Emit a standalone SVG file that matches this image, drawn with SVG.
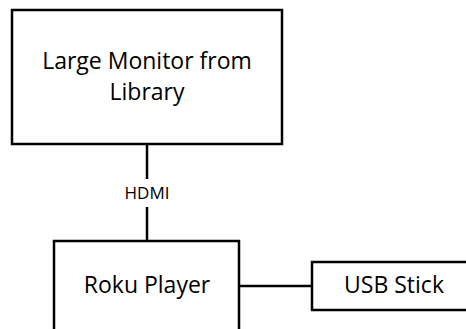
<svg xmlns="http://www.w3.org/2000/svg" width="466" height="329" viewBox="0 0 466 329">
<style>
.box{fill:#fff;stroke:#000;stroke-width:2.5}
.lbl{font-family:"Open Sans","Liberation Sans",sans-serif;font-size:23px;fill:#000;text-anchor:middle}
.small{font-family:"Open Sans","Liberation Sans",sans-serif;font-size:17px;fill:#000;text-anchor:middle}
.conn{stroke:#000;stroke-width:2.5;fill:none}
</style>
<rect width="466" height="329" fill="#fff"/>
<g id="connectors">
<line class="conn" x1="147" y1="144" x2="147" y2="179"/>
<line class="conn" x1="147" y1="207" x2="147" y2="241"/>
<text class="small" x="147" y="199">HDMI</text>
<line class="conn" x1="239" y1="286" x2="312" y2="286"/>
</g>
<g id="monitor">
<rect class="box" x="12" y="10" width="270" height="134"/>
<text class="lbl" x="147" y="69">Large Monitor from</text>
<text class="lbl" x="147" y="100">Library</text>
</g>
<g id="roku">
<rect class="box" x="54" y="241" width="185" height="100"/>
<text class="lbl" x="147" y="293">Roku Player</text>
</g>
<g id="usb">
<rect class="box" x="312" y="262" width="170" height="48"/>
<text class="lbl" x="394" y="293">USB Stick</text>
</g>
</svg>
